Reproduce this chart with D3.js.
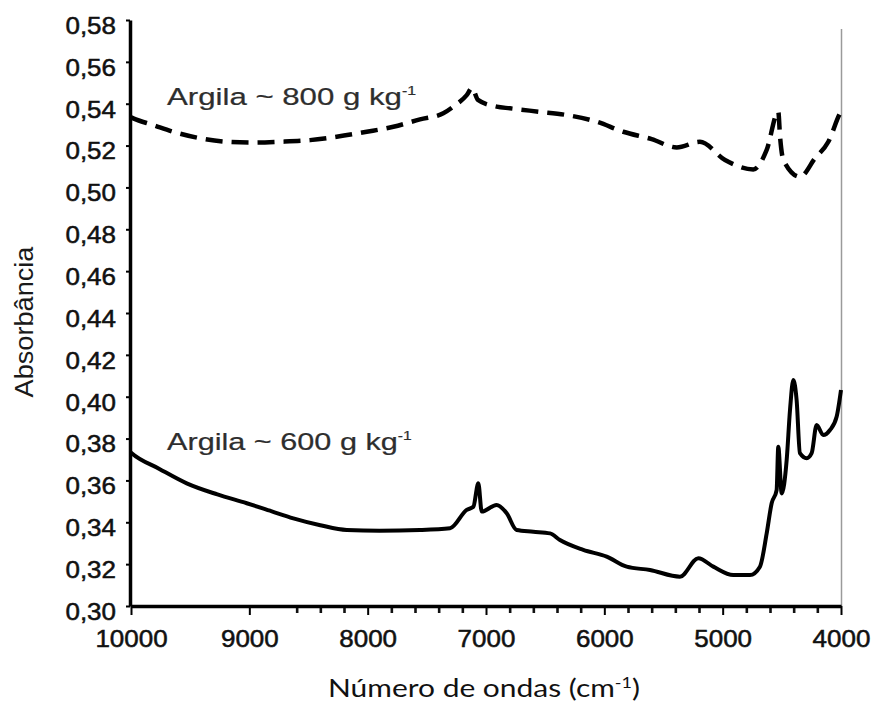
<!DOCTYPE html>
<html>
<head>
<meta charset="utf-8">
<script src="https://cdn.jsdelivr.net/npm/d3@7"></script>
<style>
  html, body { margin: 0; padding: 0; background: #fff; }
  svg { display: block; }
</style>
</head>
<body>
<svg id="chart" width="888" height="704"></svg>
<script>
// Spectrum for clay ~600 g/kg (solid line): wavenumber (cm-1) and absorbance
const wn600 = [10000, 9994, 9760, 9529, 9270, 9022, 8810, 8628, 8400, 8177, 7900, 7558, 7304, 7163, 7107, 7065, 7036, 6910, 6825, 6741, 6600, 6459, 6375, 6178, 5980, 5811, 5614, 5361, 5206, 5079, 4910, 4769, 4685, 4628, 4586, 4544, 4530, 4501, 4459, 4431, 4403, 4375, 4347, 4290, 4248, 4206, 4150, 4093, 4037, 4000];
const abs600 = [0.3733, 0.3730, 0.3655, 0.3586, 0.3533, 0.3491, 0.3452, 0.3419, 0.3386, 0.3363, 0.3360, 0.3363, 0.3371, 0.3459, 0.3474, 0.3586, 0.3451, 0.3483, 0.3443, 0.3363, 0.3355, 0.3347, 0.3315, 0.3268, 0.3236, 0.3188, 0.3172, 0.3140, 0.3228, 0.3188, 0.3148, 0.3148, 0.3188, 0.3347, 0.3491, 0.3554, 0.3761, 0.3538, 0.3698, 0.3936, 0.4080, 0.3984, 0.3730, 0.3706, 0.3730, 0.3865, 0.3817, 0.3841, 0.3904, 0.4032];

// Spectrum for clay ~800 g/kg (dashed line)
const wn800 = [10000, 9981, 9812, 9643, 9417, 9191, 8966, 8741, 8487, 8262, 8008, 7783, 7558, 7361, 7276, 7163, 7118, 7068, 6910, 6797, 6558, 6318, 6065, 5840, 5600, 5388, 5192, 4980, 4741, 4628, 4530, 4515, 4487, 4346, 4220, 4107, 4008, 4000];
const abs800 = [0.5335, 0.5330, 0.5298, 0.5266, 0.5235, 0.5218, 0.5214, 0.5218, 0.5226, 0.5242, 0.5266, 0.5290, 0.5325, 0.5354, 0.5386, 0.5441, 0.5475, 0.5418, 0.5386, 0.5378, 0.5362, 0.5346, 0.5314, 0.5266, 0.5231, 0.5191, 0.5218, 0.5131, 0.5086, 0.5179, 0.5362, 0.5242, 0.5131, 0.5051, 0.5139, 0.5218, 0.5354, 0.5362];

// Axis ticks
const xTicks = [10000, 9000, 8000, 7000, 6000, 5000, 4000];
const xMinorTicks = [8600, 8400, 8200, 7800, 7600, 7400, 7200, 6800, 6600, 6400, 6200, 5800, 5600, 5400, 5200, 4800, 4600, 4400, 4200];
const yTicks = [0.30, 0.32, 0.34, 0.36, 0.38, 0.40, 0.42, 0.44, 0.46, 0.48, 0.50, 0.52, 0.54, 0.56, 0.58];

// Series labels
const seriesLabels = [
  { text: "Argila  ~ 800 g kg", sup: "-1", baseline: 105, width: 235 },
  { text: "Argila  ~  600 g kg", sup: "-1", baseline: 450, width: 231 }
];

const svg = d3.select("#chart");
const plotLeft = 131, plotRight = 841, plotTop = 20, plotBottom = 606;

const x = d3.scaleLinear().domain([10000, 4000]).range([plotLeft, plotRight]);
const y = d3.scaleLinear().domain([0.30, 0.58]).range([plotBottom, plotTop]);

const tickFont = "'Liberation Sans', Arial, Helvetica, sans-serif";
const stretch = 1.13;

function styleTickText(sel) {
  sel.attr("fill", "#111")
    .attr("stroke", "#111")
    .attr("stroke-width", 0.5)
    .style("font-family", tickFont)
    .style("font-size", "23px");
}

// thin frame line on the right
svg.append("line")
  .attr("x1", plotRight + 0.5).attr("x2", plotRight + 0.5)
  .attr("y1", plotTop + 9).attr("y2", plotBottom)
  .attr("stroke", "#9a9a9a").attr("stroke-width", 1.5);

// minor x ticks
const gMinor = svg.append("g")
  .attr("transform", `translate(0,${plotBottom})`)
  .call(d3.axisBottom(x).tickValues(xMinorTicks).tickSize(7).tickFormat(""));
gMinor.select(".domain").remove();
gMinor.selectAll(".tick line").attr("stroke", "#111").attr("stroke-width", 2.6);

// major x axis
const gx = svg.append("g")
  .attr("transform", `translate(0,${plotBottom})`)
  .call(d3.axisBottom(x).tickValues(xTicks).tickSize(9).tickSizeOuter(0).tickFormat(d3.format("d")));
gx.select(".domain").attr("stroke", "#000").attr("stroke-width", 3.5);
gx.selectAll(".tick line").attr("stroke", "#000").attr("stroke-width", 2);
gx.selectAll(".tick text")
  .attr("y", 41).attr("dy", 0)
  .attr("transform", `scale(${stretch},1)`)
  .call(styleTickText);

// y axis
const gy = svg.append("g")
  .attr("transform", `translate(${plotLeft - 1},0)`)
  .call(d3.axisLeft(y).tickValues(yTicks).tickSize(4).tickSizeOuter(0)
    .tickFormat(d => d3.format(".2f")(d).replace(".", ",")));
gy.select(".domain").attr("stroke", "#000").attr("stroke-width", 3.5);
gy.selectAll(".tick line").attr("stroke", "#000").attr("stroke-width", 2);
gy.selectAll(".tick text")
  .attr("x", -14 / stretch).attr("dy", "0.58em")
  .attr("transform", `scale(${stretch},1)`)
  .call(styleTickText);

// spectra
const line = d3.line()
  .x(d => x(d[0])).y(d => y(d[1]))
  .curve(d3.curveMonotoneX);

svg.append("path")
  .datum(d3.zip(wn600, abs600))
  .attr("d", line)
  .attr("fill", "none")
  .attr("stroke", "#000")
  .attr("stroke-width", 4)
  .attr("stroke-linejoin", "round");

svg.append("path")
  .datum(d3.zip(wn800, abs800))
  .attr("d", line)
  .attr("fill", "none")
  .attr("stroke", "#000")
  .attr("stroke-width", 4.5)
  .attr("stroke-dasharray", "17,9");

// series labels, stretched to their set width
seriesLabels.forEach(s => {
  const t = svg.append("text")
    .attr("fill", "#2e2e2e")
    .attr("stroke", "#2e2e2e")
    .attr("stroke-width", 0.2)
    .style("font-family", tickFont)
    .style("font-size", "23.5px");
  t.append("tspan").text(s.text);
  const natural = t.node().getComputedTextLength();
  t.append("tspan").text(s.sup).attr("dy", -10).style("font-size", "12px");
  const k = s.width / natural;
  t.attr("transform", `translate(167,${s.baseline}) scale(${k},1)`);
});

// axis titles
const xt = svg.append("text")
  .attr("text-anchor", "start")
  .attr("fill", "#111")
  .style("font-family", "Lato, 'Open Sans', sans-serif")
  .style("font-size", "25px");
xt.append("tspan").text("Número de ondas (cm");
xt.append("tspan").text("-1").attr("dy", -9).style("font-size", "15px");
xt.append("tspan").text(")").attr("dy", 9);
const xtw = xt.node().getComputedTextLength();
xt.attr("transform", `translate(328,697) scale(${312 / xtw},1)`);

const yt = svg.append("text")
  .attr("text-anchor", "middle")
  .attr("fill", "#1a1a1a")
  .style("font-family", "'Liberation Sans', Arial, sans-serif")
  .style("font-size", "26px")
  .text("Absorbância");
const ytw = yt.node().getComputedTextLength();
yt.attr("transform", `translate(33,322) rotate(-90) scale(${151 / ytw},1)`);
</script>
</body>
</html>
